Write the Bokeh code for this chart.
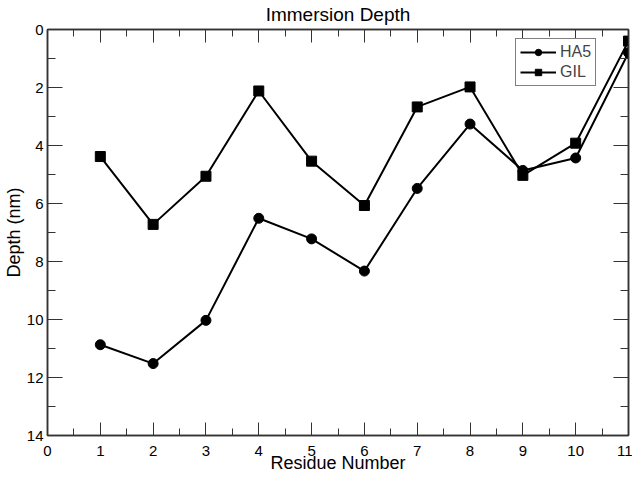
from bokeh.plotting import figure
from bokeh.models import Range1d, LinearAxis, FixedTicker, Legend, LegendItem, CustomLabelingPolicy
from bokeh.embed import file_html
from bokeh.resources import INLINE

residues = [1, 2, 3, 4, 5, 6, 7, 8, 9, 10, 11]
ha5_depth = [10.87, 11.52, 10.03, 6.51, 7.22, 8.33, 5.48, 3.26, 4.86, 4.43, 0.80]
gil_depth = [4.38, 6.72, 5.06, 2.12, 4.54, 6.07, 2.67, 1.98, 5.03, 3.92, 0.40]
x_ticks = [0, 1, 2, 3, 4, 5, 6, 7, 8, 9, 10, 11]
y_ticks = [0, 2, 4, 6, 8, 10, 12, 14]
x_minor = [i * 0.5 for i in range(0, 23)]
y_minor = list(range(0, 15))

FONT = "Liberation Sans"
AX = "#333333"

p = figure(width=632, height=478, output_backend="svg", toolbar_location=None,
           x_range=Range1d(0, 11), y_range=Range1d(14, 0),
           x_axis_location=None, y_axis_location=None,
           min_border_left=39, min_border_right=0, min_border_top=27, min_border_bottom=43,
           title="Immersion Depth")
p.title.text_font = FONT
p.title.text_font_size = "19px"
p.title.text_font_style = "normal"
p.title.text_color = "black"
p.title.align = "center"
p.title.standoff = 2
p.xgrid.visible = False
p.ygrid.visible = False
p.outline_line_color = AX
p.outline_line_width = 1.5


def style_axis(ax, ticks, minor, major_in, minor_in, show_labels):
    ax.ticker = FixedTicker(ticks=ticks, minor_ticks=minor)
    ax.axis_line_color = AX
    ax.axis_line_width = 1.5
    ax.major_tick_line_color = AX
    ax.minor_tick_line_color = AX
    ax.major_tick_in = major_in
    ax.major_tick_out = 0
    ax.minor_tick_in = minor_in
    ax.minor_tick_out = 0
    ax.major_label_text_font = FONT
    ax.axis_label_text_font = FONT
    ax.axis_label_text_font_style = "normal"
    ax.axis_label_text_font_size = "18px"
    ax.axis_label_text_color = "black"
    ax.major_label_text_color = "black"
    if show_labels:
        ax.major_label_text_font_size = "15px"
    else:
        ax.major_label_text_font_size = "1px"
        ax.major_label_policy = CustomLabelingPolicy(code="return []")
        ax.major_label_standoff = 0
        ax.axis_label_standoff = 0


xb = LinearAxis(axis_label="Residue Number")
style_axis(xb, x_ticks, x_minor, 13, 7, True)
xb.major_label_standoff = 10
xb.axis_label_standoff = -6
p.add_layout(xb, "below")

xt = LinearAxis()
style_axis(xt, x_ticks, x_minor, 13, 7, False)
p.add_layout(xt, "above")

yl = LinearAxis(axis_label="Depth (nm)")
style_axis(yl, y_ticks, y_minor, 15, 8, True)
yl.major_label_standoff = 4
yl.axis_label_standoff = 0
p.add_layout(yl, "left")

yr = LinearAxis()
style_axis(yr, y_ticks, y_minor, 15, 8, False)
p.add_layout(yr, "right")

l1 = p.line(residues, ha5_depth, line_color="black", line_width=2)
s1 = p.scatter(residues, ha5_depth, marker="circle", size=10, fill_color="black", line_color="black")
l2 = p.line(residues, gil_depth, line_color="black", line_width=2)
s2 = p.scatter(residues, gil_depth, marker="square", size=10, fill_color="black", line_color="black")

legend = Legend(items=[LegendItem(label="HA5", renderers=[l1, s1]),
                       LegendItem(label="GIL", renderers=[l2, s2])],
                location=(468, 349))
legend.label_text_font = FONT
legend.label_text_font_size = "16px"
legend.border_line_color = "black"
legend.border_line_width = 1
legend.padding = 4
legend.spacing = 2
legend.glyph_width = 36
legend.glyph_height = 16
legend.label_height = 16
legend.label_standoff = 4
legend.margin = 0
legend.background_fill_alpha = 1
p.add_layout(legend)

open("out.html", "w").write(file_html(p, INLINE))
